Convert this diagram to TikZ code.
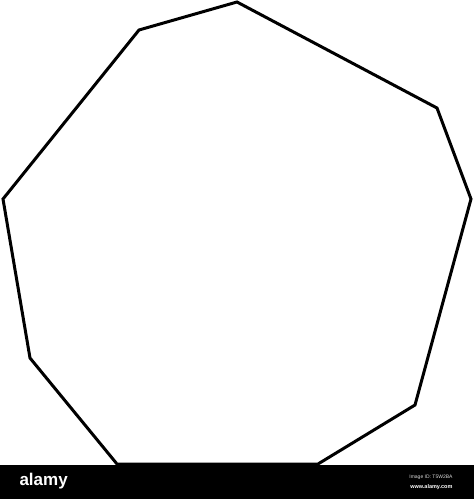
\documentclass[tikz,border=0pt]{standalone}
\usepackage{fontspec}
\setmainfont{Liberation Sans}
\usetikzlibrary{calc}

\begin{document}
\begin{tikzpicture}[x=1pt,y=-1pt]
        \useasboundingbox (0,0) rectangle (474,499);

        % corners of the polygon
        \coordinate (p1) at (237,2);
        \coordinate (p2) at (139,30);
        \coordinate (p3) at (3,199);
        \coordinate (p4) at (30,358);
        \coordinate (p5) at (117,464);
        \coordinate (p6) at (318,464);
        \coordinate (p7) at (415,405);
        \coordinate (p8) at (471,199);
        \coordinate (p9) at (437,108);

        \draw[line width=3pt,black,line join=miter] (p1)--(p2)--(p3)--(p4)--(p5)--(p6)--(p7)--(p8)--(p9)--cycle;

        % band at the bottom
        \fill[black] (0,465) rectangle (474,499);
        \node[white,font=\bfseries\fontsize{17}{17}\selectfont,anchor=west] (brand) at (16,481) {alamy};
        \node[white!85!black,font=\fontsize{5}{5}\selectfont,anchor=east] (imgid) at (456,477) {Image ID: T5W2BA};
        \node[white,font=\bfseries\fontsize{5.5}{5.5}\selectfont,anchor=east] (site) at (456,487) {www.alamy.com};

      \end{tikzpicture}
\end{document}
